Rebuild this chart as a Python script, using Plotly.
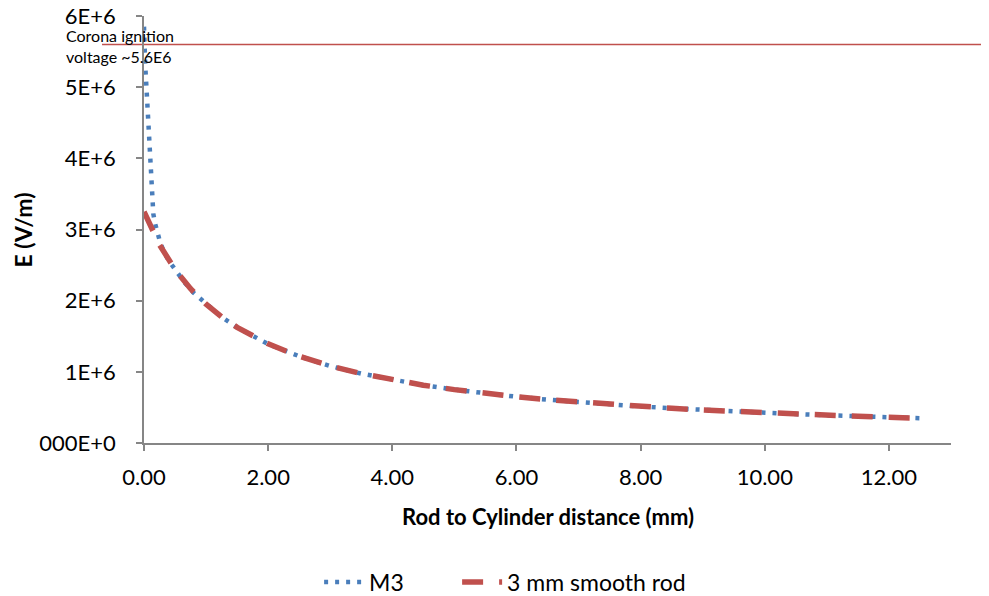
import plotly.graph_objects as go

# ---------------- data ----------------
m3_distance_mm = [0.0, 0.005, 0.02, 0.04, 0.06, 0.08, 0.10, 0.115, 0.13, 0.15, 0.18, 0.22, 0.26,
                  0.32, 0.40, 0.50, 0.65, 0.80, 1.0, 1.25, 1.5, 1.75, 2.0, 2.5, 3.0, 3.5, 4.0,
                  4.5, 5.0, 5.5, 6.0, 6.5, 7.0, 7.5, 8.0, 8.5, 9.0, 9.5, 10.0, 10.5, 11.0,
                  11.5, 12.0, 12.5]
m3_field = [5.85e6, 5.62e6, 5.30e6, 4.99e6, 4.69e6, 4.30e6, 3.93e6, 3.62e6, 3.40e6, 3.22e6,
            3.08e6, 2.93e6, 2.82e6, 2.69e6, 2.56e6, 2.44e6, 2.26e6, 2.11e6, 1.95e6, 1.77e6,
            1.625e6, 1.50e6, 1.39e6, 1.22e6, 1.08e6, 0.975e6, 0.886e6, 0.812e6, 0.75e6,
            0.696e6, 0.65e6, 0.609e6, 0.574e6, 0.542e6, 0.513e6, 0.488e6, 0.464e6, 0.443e6,
            0.424e6, 0.406e6, 0.39e6, 0.375e6, 0.361e6, 0.348e6]

rod_distance_mm = [0.0, 0.1, 0.25, 0.5, 0.75, 1.0, 1.25, 1.5, 1.75, 2.0, 2.5, 3.0, 3.5, 4.0,
                   4.5, 5.0, 5.5, 6.0, 6.5, 7.0, 7.5, 8.0, 8.5, 9.0, 9.5, 10.0, 10.5, 11.0,
                   11.5, 12.0, 12.5]
rod_field = [3.25e6, 3.05e6, 2.786e6, 2.4375e6, 2.167e6, 1.95e6, 1.773e6, 1.625e6, 1.50e6,
             1.393e6, 1.219e6, 1.083e6, 0.975e6, 0.886e6, 0.8125e6, 0.75e6, 0.696e6, 0.65e6,
             0.609e6, 0.574e6, 0.542e6, 0.513e6, 0.4875e6, 0.464e6, 0.443e6, 0.424e6,
             0.406e6, 0.39e6, 0.375e6, 0.361e6, 0.348e6]

series_names = ["M3", "3 mm smooth rod"]
x_tick_values = [0, 2, 4, 6, 8, 10, 12]
y_tick_values = [0, 1e6, 2e6, 3e6, 4e6, 5e6, 6e6]
y_tick_labels = ["000E+0", "1E+6", "2E+6", "3E+6", "4E+6", "5E+6", "6E+6"]
corona_level = 5.6e6
corona_text = "Corona ignition<br>voltage ~5.6E6"
x_title = "Rod to Cylinder distance (mm)"
y_title = "E (V/m)"

# ---------------- styling ----------------
FONT = "Lato, 'Open Sans', sans-serif"
AXIS_GRAY = "#868686"
BLUE = "#4A7EBB"
RED = "#C0504D"

fig = go.Figure()
fig.add_trace(go.Scatter(
    x=m3_distance_mm, y=m3_field, mode="lines", name=series_names[0],
    line=dict(color=BLUE, width=4.5, dash="4px,7px"), legend="legend",
))
fig.add_trace(go.Scatter(
    x=rod_distance_mm, y=rod_field, mode="lines", name=series_names[1],
    line=dict(color=RED, width=5.5, dash="21px,16px"), legend="legend2",
))

fig.add_shape(type="line", xref="paper", yref="y", x0=-0.052, x1=1.06,
              y0=corona_level, y1=corona_level, layer="below",
              line=dict(color=RED, width=1.5))

fig.add_annotation(text=corona_text, xref="paper", yref="y", x=-0.0954, y=corona_level,
                   xanchor="left", yanchor="middle", align="left", showarrow=False,
                   xshift=-3, yshift=-2,
                   font=dict(family=FONT, size=16, color="#000000"))

fig.add_annotation(text="<b>%s</b>" % x_title, xref="paper", yref="paper",
                   x=0.5, y=-0.173, xanchor="center", yanchor="middle", showarrow=False,
                   font=dict(family=FONT, size=22, color="#000000"))
fig.add_annotation(text="<b>%s</b>" % y_title, xref="paper", yref="paper",
                   x=-0.150, y=0.5, xanchor="center", yanchor="middle", showarrow=False,
                   textangle=-90, font=dict(family=FONT, size=23, color="#000000"))

legend_style = dict(orientation="h", y=-0.3255, xanchor="left", yanchor="middle",
                    font=dict(family=FONT, size=23, color="#000000"),
                    bgcolor="rgba(0,0,0,0)", itemwidth=40)

# the page body adds an 8px offset; the figure size/margins compensate for it
fig.update_layout(
    width=981, height=588,
    margin=dict(l=136, r=38, t=8, b=153, autoexpand=False),
    paper_bgcolor="white", plot_bgcolor="white",
    font=dict(family=FONT, size=21, color="#000000"),
    showlegend=True,
    legend=dict(x=0.217, **legend_style),
    legend2=dict(x=0.388, **legend_style),
)
fig.update_xaxes(
    range=[0, 13], tickvals=x_tick_values, tickformat=".2f",
    showline=True, linecolor=AXIS_GRAY, linewidth=1.5,
    ticks="outside", ticklen=6, tickwidth=1.5, tickcolor=AXIS_GRAY,
    showgrid=False, zeroline=False, ticklabelstandoff=8, automargin=False,
    ticklabeloverflow="allow",
    tickfont=dict(family=FONT, size=22, color="#000000"),
)
fig.update_yaxes(
    range=[0, 6e6], tickvals=y_tick_values, ticktext=y_tick_labels,
    showline=True, linecolor=AXIS_GRAY, linewidth=1.5,
    ticks="outside", ticklen=6, tickwidth=1.5, tickcolor=AXIS_GRAY,
    showgrid=False, zeroline=False, ticklabelstandoff=16, automargin=False,
    ticklabeloverflow="allow",
    tickfont=dict(family=FONT, size=22, color="#000000"),
)

fig.write_html("out.html")
